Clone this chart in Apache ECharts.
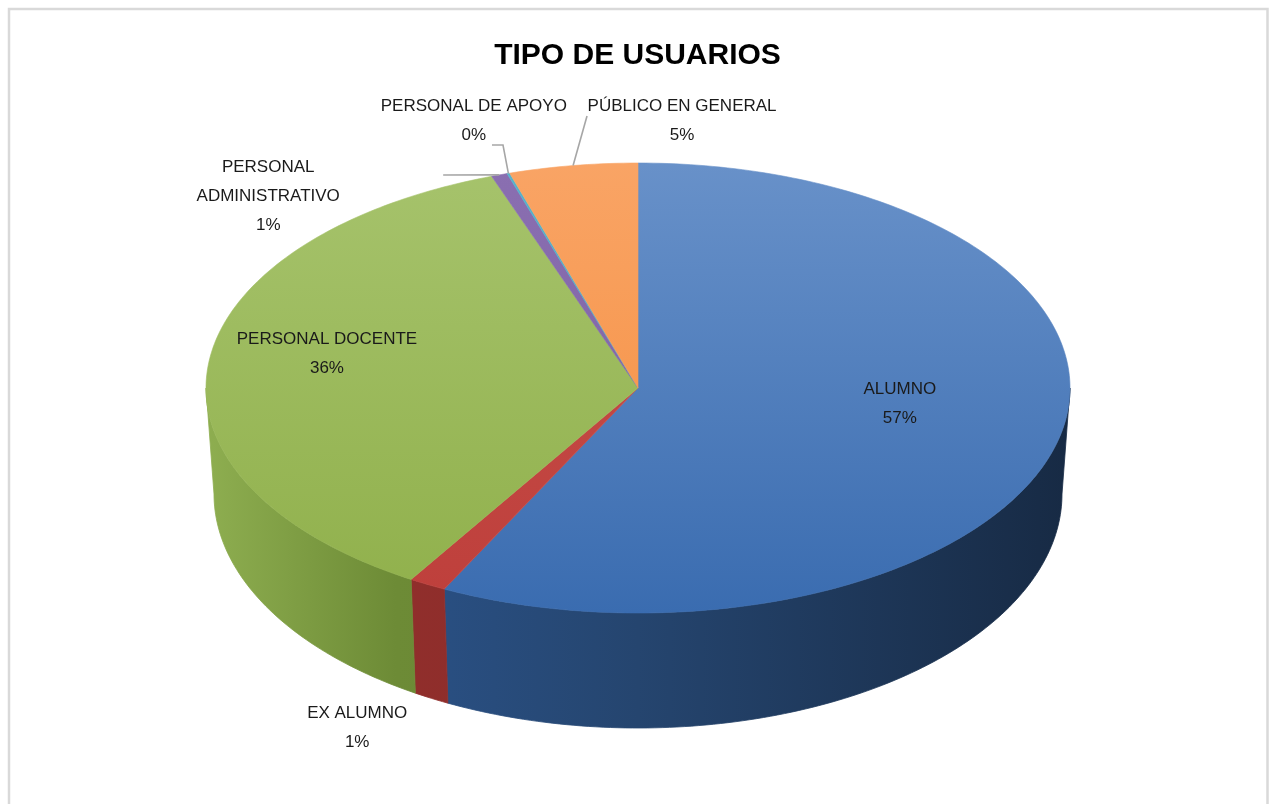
<!DOCTYPE html>
<html lang="es">
<head>
    <meta charset="UTF-8">
    <title>Tipo de usuarios</title>
    <script src="https://cdn.jsdelivr.net/npm/echarts@6/dist/echarts.min.js"></script>
    <style>
        html, body { margin: 0; padding: 0; background: #fff; }
        #chart { width: 1275px; height: 804px; }
    </style>
</head>
<body>
<div id="chart"></div>
<script type="text/javascript">
    // datos
    const categories = ['ALUMNO', 'EX ALUMNO', 'PERSONAL DOCENTE', 'PERSONAL ADMINISTRATIVO', 'PERSONAL DE APOYO', 'PÚBLICO EN GENERAL'];
    const values = [57.4, 1.4, 35.7, 0.6, 0.1, 4.8];

    // colores: cara superior (arriba -> abajo) y pared (izquierda -> derecha)
    const topColors = [
        ['#6891c9', '#3a6cb0'],
        ['#c8514c', '#be3f3b'],
        ['#a6c36c', '#90b04b'],
        ['#8a6fb1', '#7b5fa0'],
        ['#56b3cc', '#44a2bb'],
        ['#f9a465', '#f58e3e']
    ];
    const wallColors = [
        [[0, '#2e5a96'], [0.5, '#25456f'], [1, '#172a44']],
        [[0, '#93302d'], [1, '#862826']],
        [[0, '#8eae50'], [0.22, '#6d8b36'], [1, '#5a7529']],
        [[0, '#6a5290'], [1, '#5a4580']],
        [[0, '#3a8ea4'], [1, '#2f7d92']],
        [[0, '#c8742f'], [1, '#b86528']]
    ];

    // posicion de etiquetas (fracciones del radio, relativas al centro)
    const labelLayout = [
        {fx: 0.606, fy: 0.071},
        {fx: -0.650, fy: 1.511},
        {fx: -0.720, fy: -0.151},
        {fx: -0.856, fy: -0.853, wrap: true, leader: [[-0.451, -0.947]]},
        {fx: -0.380, fy: -1.187, leader: [[-0.338, -1.08], [-0.3125, -1.08]]},
        {fx: 0.102, fy: -1.187, leader: [[-0.118, -1.209]]}
    ];

    // geometria del pastel 3D
    const pie = {cx: 638, cy: 388, rx: 432, ry: 225, depth: 106, rxB: 424, ryB: 234};
    const FONT = '"Liberation Sans", Arial, sans-serif';

    let myChart = echarts.init(document.getElementById('chart'));

    const total = values.reduce((a, b) => a + b, 0);
    const starts = [];
    values.reduce((acc, v, i) => { starts[i] = acc; return acc + v; }, 0);

    function topPt(a) {
        return [pie.cx + pie.rx * Math.sin(a), pie.cy - pie.ry * Math.cos(a)];
    }

    function botPt(a) {
        return [pie.cx + pie.rxB * Math.sin(a), pie.cy + pie.depth - pie.ryB * Math.cos(a)];
    }

    function arc(fn, a0, a1) {
        let pts = [];
        let n = Math.max(2, Math.ceil(Math.abs(a1 - a0) / (Math.PI / 180)));
        for (let k = 0; k <= n; k++) {
            pts.push(fn(a0 + (a1 - a0) * k / n));
        }
        return pts;
    }

    function renderItem(params, api) {
        let i = params.dataIndex;
        let a0 = starts[i] / total * Math.PI * 2;
        let a1 = (starts[i] + values[i]) / total * Math.PI * 2;
        let children = [];

        // pared frontal (solo la mitad visible: 90..270 grados)
        let w0 = Math.max(a0, Math.PI / 2), w1 = Math.min(a1, Math.PI * 1.5);
        if (w1 > w0) {
            let pts = arc(topPt, w0, w1).concat(arc(botPt, w1, w0));
            let grad = new echarts.graphic.LinearGradient(pie.cx - pie.rx, 0, pie.cx + pie.rx, 0,
                wallColors[i].map(s => ({offset: s[0], color: s[1]})), true);
            children.push({
                type: 'polygon', z2: 1,
                shape: {points: pts},
                style: {fill: grad, stroke: grad, lineWidth: 0.8}
            });
        }

        // cara superior
        if (a1 > a0) {
            let grad = new echarts.graphic.LinearGradient(0, pie.cy - pie.ry, 0, pie.cy + pie.ry, [
                {offset: 0, color: topColors[i][0]},
                {offset: 1, color: topColors[i][1]}
            ], true);
            let pts = [[pie.cx, pie.cy]].concat(arc(topPt, a0, a1));
            children.push({
                type: 'polygon', z2: 5,
                shape: {points: pts},
                style: {fill: grad, stroke: grad, lineWidth: 0.6}
            });
        }

        // etiqueta
        let lay = labelLayout[i];
        let name = lay.wrap ? categories[i].replace(' ', '\n') : categories[i];
        let pct = Math.round(values[i] / total * 100) + '%';
        let lx = pie.cx + lay.fx * pie.rx;
        let ly = pie.cy + lay.fy * pie.ry;
        children.push({
            type: 'text', z2: 20,
            x: lx, y: ly,
            style: {
                text: name + '\n' + pct,
                fill: '#1a1a1a',
                font: '17px ' + FONT,
                lineHeight: 29,
                align: 'center',
                verticalAlign: 'middle'
            }
        });

        // linea guia hasta el borde del sector
        if (lay.leader) {
            let pts = lay.leader.map(p => [pie.cx + p[0] * pie.rx, pie.cy + p[1] * pie.ry]);
            pts.push(topPt((a0 + a1) / 2));
            children.push({
                type: 'polyline', z2: 15,
                shape: {points: pts},
                style: {stroke: '#a6a6a6', lineWidth: 1.6, fill: null}
            });
        }

        return {type: 'group', children: children};
    }

    let option = {
        animation: false,
        backgroundColor: '#ffffff',
        title: {
            text: 'TIPO DE USUARIOS',
            left: 'center',
            top: 36,
            textStyle: {fontFamily: FONT, fontSize: 30, fontWeight: 'bold', color: '#000000'}
        },
        graphic: [{
            type: 'rect',
            silent: true,
            shape: {x: 9, y: 9, width: 1258.5, height: 830},
            style: {fill: 'none', stroke: '#d9d9d9', lineWidth: 2.5}
        }],
        series: [{
            type: 'custom',
            coordinateSystem: 'none',
            silent: true,
            renderItem: renderItem,
            data: values.map((v, i) => ({name: categories[i], value: v}))
        }]
    };

    myChart.setOption(option);
</script>
</body>
</html>
